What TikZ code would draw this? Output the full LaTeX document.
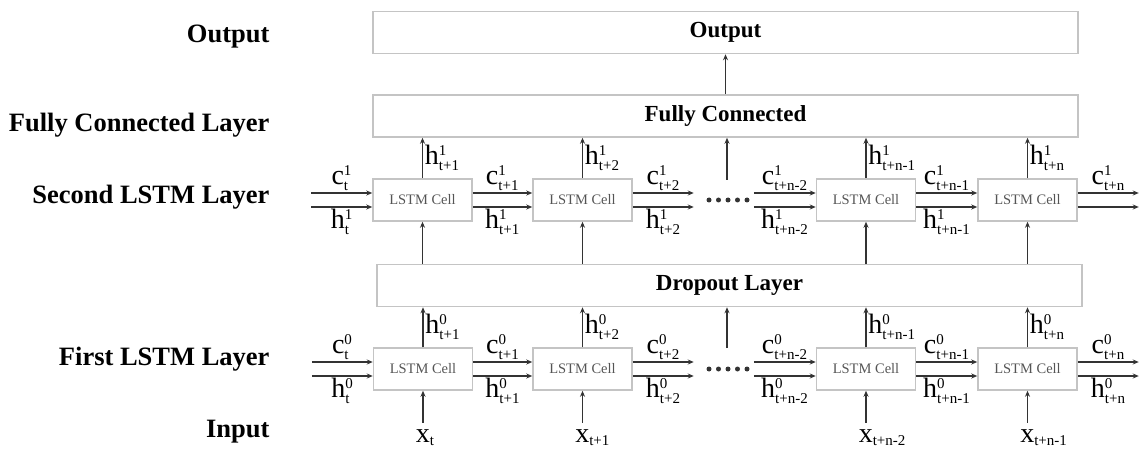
\documentclass[tikz,border=0pt]{standalone}
\usepackage{fontspec}
\setmainfont{Liberation Serif}
\usetikzlibrary{arrows.meta,positioning}
\definecolor{boxgray}{HTML}{C4C4C4}
\definecolor{linegray}{HTML}{333333}
\definecolor{cellgray}{HTML}{555555}
\newcommand{\sv}[1]{\hbox{\fontsize{15}{15}\selectfont #1}}
\newcommand{\hv}[3]{$\mathrm{#1}^{\sv{#2}}_{\sv{#3}}$}
\newcommand{\xv}[1]{$\mathrm{x}_{\rlap{\sv{#1}}}$}

\begin{document}
\begin{tikzpicture}[x=1pt,y=-1pt]
\tikzset{
  layerbox/.style={draw=boxgray,line width=1.5pt,minimum width=705pt,minimum height=42pt,inner sep=0pt,font=\bfseries\fontsize{23}{26}\selectfont},
  cellbox/.style={draw=boxgray,line width=1.5pt,minimum width=99pt,minimum height=42pt,inner sep=0pt,text=cellgray,font=\fontsize{14.5}{16}\selectfont},
  sidelabel/.style={anchor=base east,font=\bfseries\fontsize{26.5}{30}\selectfont},
  varlabel/.style={font=\fontsize{28}{32}\selectfont,inner sep=1.5pt},
  directed/.style={draw=linegray,line width=1.8pt,-{Stealth[length=6pt,width=5pt]}}
}
\useasboundingbox (0,0) rectangle (1139,454);
\node[sidelabel] (n_tOut) at (273,43) {Output};
\node[sidelabel] (n_tFC) at (273,132) {Fully Connected Layer};
\node[sidelabel] (n_tSec) at (273,204) {Second LSTM Layer};
\node[sidelabel] (n_tFir) at (273,365) {First LSTM Layer};
\node[sidelabel] (n_tIn) at (273,437) {Input};
\node[layerbox] (n_out) at (725.5,32.5) {Output};
\node[layerbox] (n_fc) at (725.5,116) {Fully Connected};
\node[layerbox] (n_drop) at (729.5,285.5) {Dropout Layer};
\node[cellbox] (n_S1) at (422.5,200) {LSTM Cell};
\node[cellbox] (n_S2) at (582.5,200) {LSTM Cell};
\node[cellbox] (n_S3) at (866,200) {LSTM Cell};
\node[cellbox] (n_S4) at (1027.5,200) {LSTM Cell};
\node[cellbox] (n_F1) at (423,369) {LSTM Cell};
\node[cellbox] (n_F2) at (582.5,369) {LSTM Cell};
\node[cellbox] (n_F3) at (866,369) {LSTM Cell};
\node[cellbox] (n_F4) at (1027.5,369) {LSTM Cell};
\coordinate (n_gapS) at (727,180);
\coordinate (n_gapF) at (727,348);
% vertical flow
\draw[directed] (n_fc) -- (n_out);
\draw[directed] (n_S1.north) -- node[varlabel,right] {\hv{h}{1}{t+1}} (n_S1.north |- n_fc.south);
\draw[directed] (n_S2.north) -- node[varlabel,right] {\hv{h}{1}{t+2}} (n_S2.north |- n_fc.south);
\draw[directed] (n_gapS) -- (n_gapS |- n_fc.south);
\draw[directed] (n_S3.north) -- node[varlabel,right] {\hv{h}{1}{t+n-1}} (n_S3.north |- n_fc.south);
\draw[directed] (n_S4.north) -- node[varlabel,right] {\hv{h}{1}{t+n}} (n_S4.north |- n_fc.south);
\draw[directed] (n_S1.south |- n_drop.north) -- (n_S1.south);
\draw[directed] (n_S2.south |- n_drop.north) -- (n_S2.south);
\draw[directed] (n_S3.south |- n_drop.north) -- (n_S3.south);
\draw[directed] (n_S4.south |- n_drop.north) -- (n_S4.south);
\draw[directed] (n_F1.north) -- node[varlabel,right] {\hv{h}{0}{t+1}} (n_F1.north |- n_drop.south);
\draw[directed] (n_F2.north) -- node[varlabel,right] {\hv{h}{0}{t+2}} (n_F2.north |- n_drop.south);
\draw[directed] (n_gapF) -- (n_gapF |- n_drop.south);
\draw[directed] (n_F3.north) -- node[varlabel,right] {\hv{h}{0}{t+n-1}} (n_F3.north |- n_drop.south);
\draw[directed] (n_F4.north) -- node[varlabel,right] {\hv{h}{0}{t+n}} (n_F4.north |- n_drop.south);
\draw[directed] ([yshift=-32pt]n_F1.south) node[varlabel,below,yshift=-4pt] {\xv{t}} -- (n_F1.south);
\draw[directed] ([yshift=-32pt]n_F2.south) node[varlabel,below,yshift=-4pt] {\xv{t+1}} -- (n_F2.south);
\draw[directed] ([yshift=-32pt]n_F3.south) node[varlabel,below,yshift=-4pt] {\xv{t+n-2}} -- (n_F3.south);
\draw[directed] ([yshift=-32pt]n_F4.south) node[varlabel,below,yshift=-4pt] {\xv{t+n-1}} -- (n_F4.south);
% second layer states
\draw[directed] ([xshift=-61pt,yshift=7pt]n_S1.west) -- node[varlabel,above] {\hv{c}{1}{t}} ([yshift=7pt]n_S1.west);
\draw[directed] ([xshift=-61pt,yshift=-7pt]n_S1.west) -- node[varlabel,below] {\hv{h}{1}{t}} ([yshift=-7pt]n_S1.west);
\draw[directed] ([yshift=7pt]n_S1.east) -- node[varlabel,above] {\hv{c}{1}{t+1}} ([yshift=7pt]n_S2.west);
\draw[directed] ([yshift=-7pt]n_S1.east) -- node[varlabel,below] {\hv{h}{1}{t+1}} ([yshift=-7pt]n_S2.west);
\draw[directed] ([yshift=7pt]n_S2.east) -- node[varlabel,above] {\hv{c}{1}{t+2}} ++(61,0);
\draw[directed] ([yshift=-7pt]n_S2.east) -- node[varlabel,below] {\hv{h}{1}{t+2}} ++(61,0);
\draw[directed] ([xshift=-62pt,yshift=7pt]n_S3.west) -- node[varlabel,above] {\hv{c}{1}{t+n-2}} ([yshift=7pt]n_S3.west);
\draw[directed] ([xshift=-62pt,yshift=-7pt]n_S3.west) -- node[varlabel,below] {\hv{h}{1}{t+n-2}} ([yshift=-7pt]n_S3.west);
\draw[directed] ([yshift=7pt]n_S3.east) -- node[varlabel,above] {\hv{c}{1}{t+n-1}} ([yshift=7pt]n_S4.west);
\draw[directed] ([yshift=-7pt]n_S3.east) -- node[varlabel,below] {\hv{h}{1}{t+n-1}} ([yshift=-7pt]n_S4.west);
\draw[directed] ([yshift=7pt]n_S4.east) -- node[varlabel,above] {\hv{c}{1}{t+n}} ++(61,0);
\draw[directed] ([yshift=-7pt]n_S4.east) -- ++(61,0);
% first layer states
\draw[directed] ([xshift=-61pt,yshift=7pt]n_F1.west) -- node[varlabel,above] {\hv{c}{0}{t}} ([yshift=7pt]n_F1.west);
\draw[directed] ([xshift=-61pt,yshift=-7pt]n_F1.west) -- node[varlabel,below] {\hv{h}{0}{t}} ([yshift=-7pt]n_F1.west);
\draw[directed] ([yshift=7pt]n_F1.east) -- node[varlabel,above] {\hv{c}{0}{t+1}} ([yshift=7pt]n_F2.west);
\draw[directed] ([yshift=-7pt]n_F1.east) -- node[varlabel,below] {\hv{h}{0}{t+1}} ([yshift=-7pt]n_F2.west);
\draw[directed] ([yshift=7pt]n_F2.east) -- node[varlabel,above] {\hv{c}{0}{t+2}} ++(61,0);
\draw[directed] ([yshift=-7pt]n_F2.east) -- node[varlabel,below] {\hv{h}{0}{t+2}} ++(61,0);
\draw[directed] ([xshift=-62pt,yshift=7pt]n_F3.west) -- node[varlabel,above] {\hv{c}{0}{t+n-2}} ([yshift=7pt]n_F3.west);
\draw[directed] ([xshift=-62pt,yshift=-7pt]n_F3.west) -- node[varlabel,below] {\hv{h}{0}{t+n-2}} ([yshift=-7pt]n_F3.west);
\draw[directed] ([yshift=7pt]n_F3.east) -- node[varlabel,above] {\hv{c}{0}{t+n-1}} ([yshift=7pt]n_F4.west);
\draw[directed] ([yshift=-7pt]n_F3.east) -- node[varlabel,below] {\hv{h}{0}{t+n-1}} ([yshift=-7pt]n_F4.west);
\draw[directed] ([yshift=7pt]n_F4.east) -- node[varlabel,above] {\hv{c}{0}{t+n}} ++(61,0);
\draw[directed] ([yshift=-7pt]n_F4.east) -- node[varlabel,below] {\hv{h}{0}{t+n}} ++(61,0);
% ellipsis dots
\fill[linegray] (709,200) circle (2.5) (718.5,200) circle (2.5) (728,200) circle (2.5) (737.5,200) circle (2.5) (747,200) circle (2.5);
\fill[linegray] (709,369) circle (2.5) (718.5,369) circle (2.5) (728,369) circle (2.5) (737.5,369) circle (2.5) (747,369) circle (2.5);
\end{tikzpicture}
\end{document}
